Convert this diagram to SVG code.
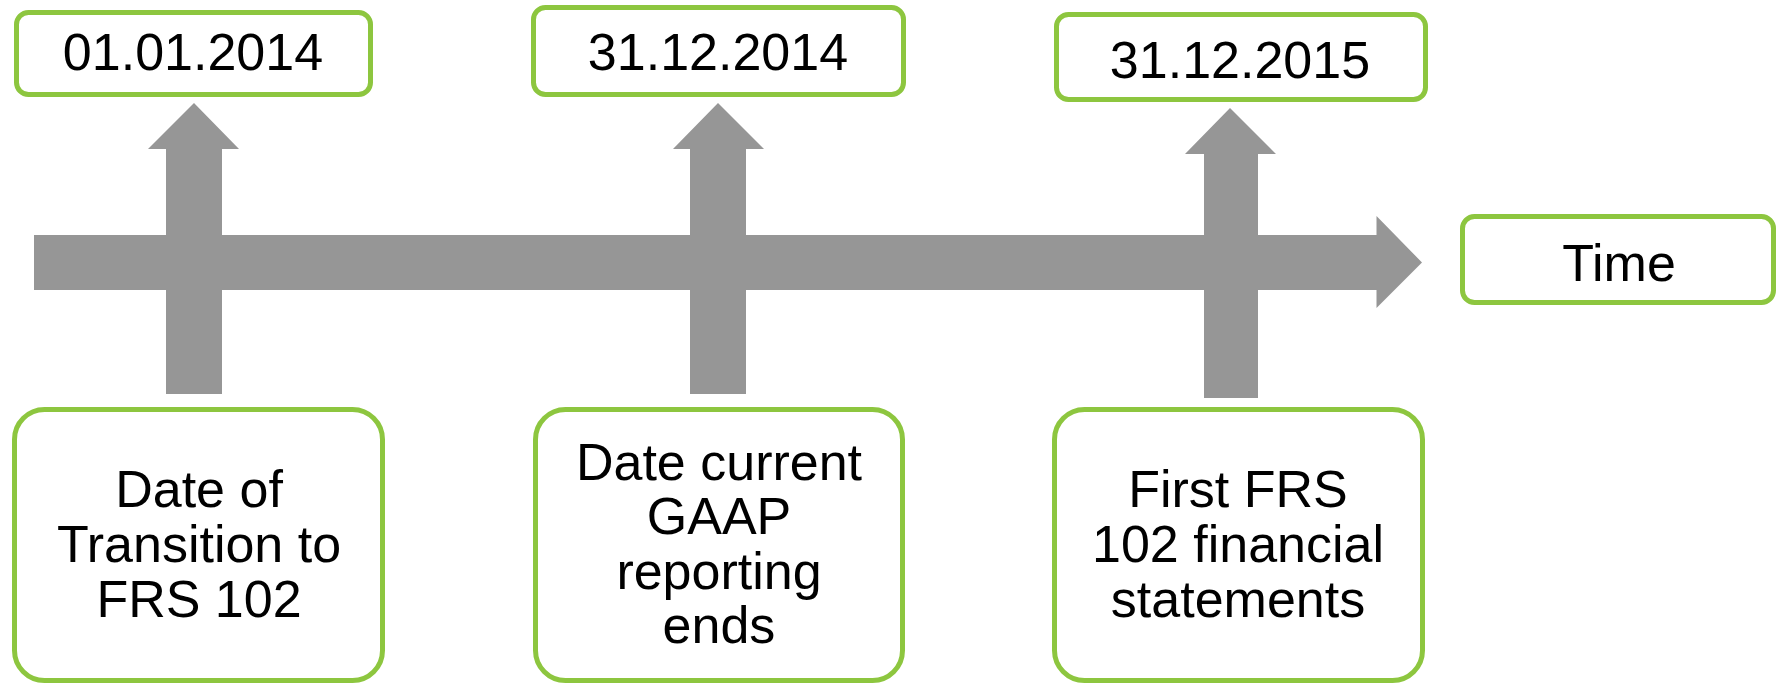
<svg xmlns="http://www.w3.org/2000/svg" width="1778" height="683" viewBox="0 0 1778 683">
<style>
.box{fill:#ffffff;stroke:#8dc63f;stroke-width:5}
.arr{fill:#969696}
.t{font-family:"Liberation Sans",Arial,sans-serif;font-size:52px;fill:#000000;text-anchor:middle}
</style>
<rect width="1778" height="683" fill="#ffffff"/>
<g id="connectors">
<path class="arr" d="M34,235 H1376.5 V216 L1422,262.5 L1376.5,308 V290 H34 Z"/>
<path class="arr" d="M166,394 V149 H148 L194,103 L239,149 H222 V394 Z"/>
<path class="arr" d="M690,394 V149 H673 L718,103 L764,149 H746 V394 Z"/>
<path class="arr" d="M1204,398 V154 H1185 L1230,108 L1276,154 H1258 V398 Z"/>
</g>
<g id="date1">
<rect class="box" x="16.5" y="12.5" width="354" height="82" rx="12"/>
<text class="t" x="193" y="70">01.01.2014</text>
</g>
<g id="date2">
<rect class="box" x="533.5" y="7.5" width="370" height="87" rx="12"/>
<text class="t" x="718" y="70">31.12.2014</text>
</g>
<g id="date3">
<rect class="box" x="1056.5" y="14.5" width="369" height="85" rx="12"/>
<text class="t" x="1240" y="78">31.12.2015</text>
</g>
<g id="time">
<rect class="box" x="1462.5" y="216.5" width="311" height="86" rx="12"/>
<text class="t" x="1619" y="281">Time</text>
</g>
<g id="transition">
<rect class="box" x="14.5" y="409.5" width="368" height="271" rx="30"/>
<text class="t" x="199" y="507">Date of</text>
<text class="t" x="199" y="562">Transition to</text>
<text class="t" x="199" y="617">FRS 102</text>
</g>
<g id="gaap-ends">
<rect class="box" x="535.5" y="409.5" width="367" height="271" rx="30"/>
<text class="t" x="719" y="480">Date current</text>
<text class="t" x="719" y="534">GAAP</text>
<text class="t" x="719" y="589">reporting</text>
<text class="t" x="719" y="643">ends</text>
</g>
<g id="first-frs">
<rect class="box" x="1054.5" y="409.5" width="368" height="271" rx="30"/>
<text class="t" x="1238" y="507">First FRS</text>
<text class="t" x="1238" y="562">102 financial</text>
<text class="t" x="1238" y="617">statements</text>
</g>
</svg>
